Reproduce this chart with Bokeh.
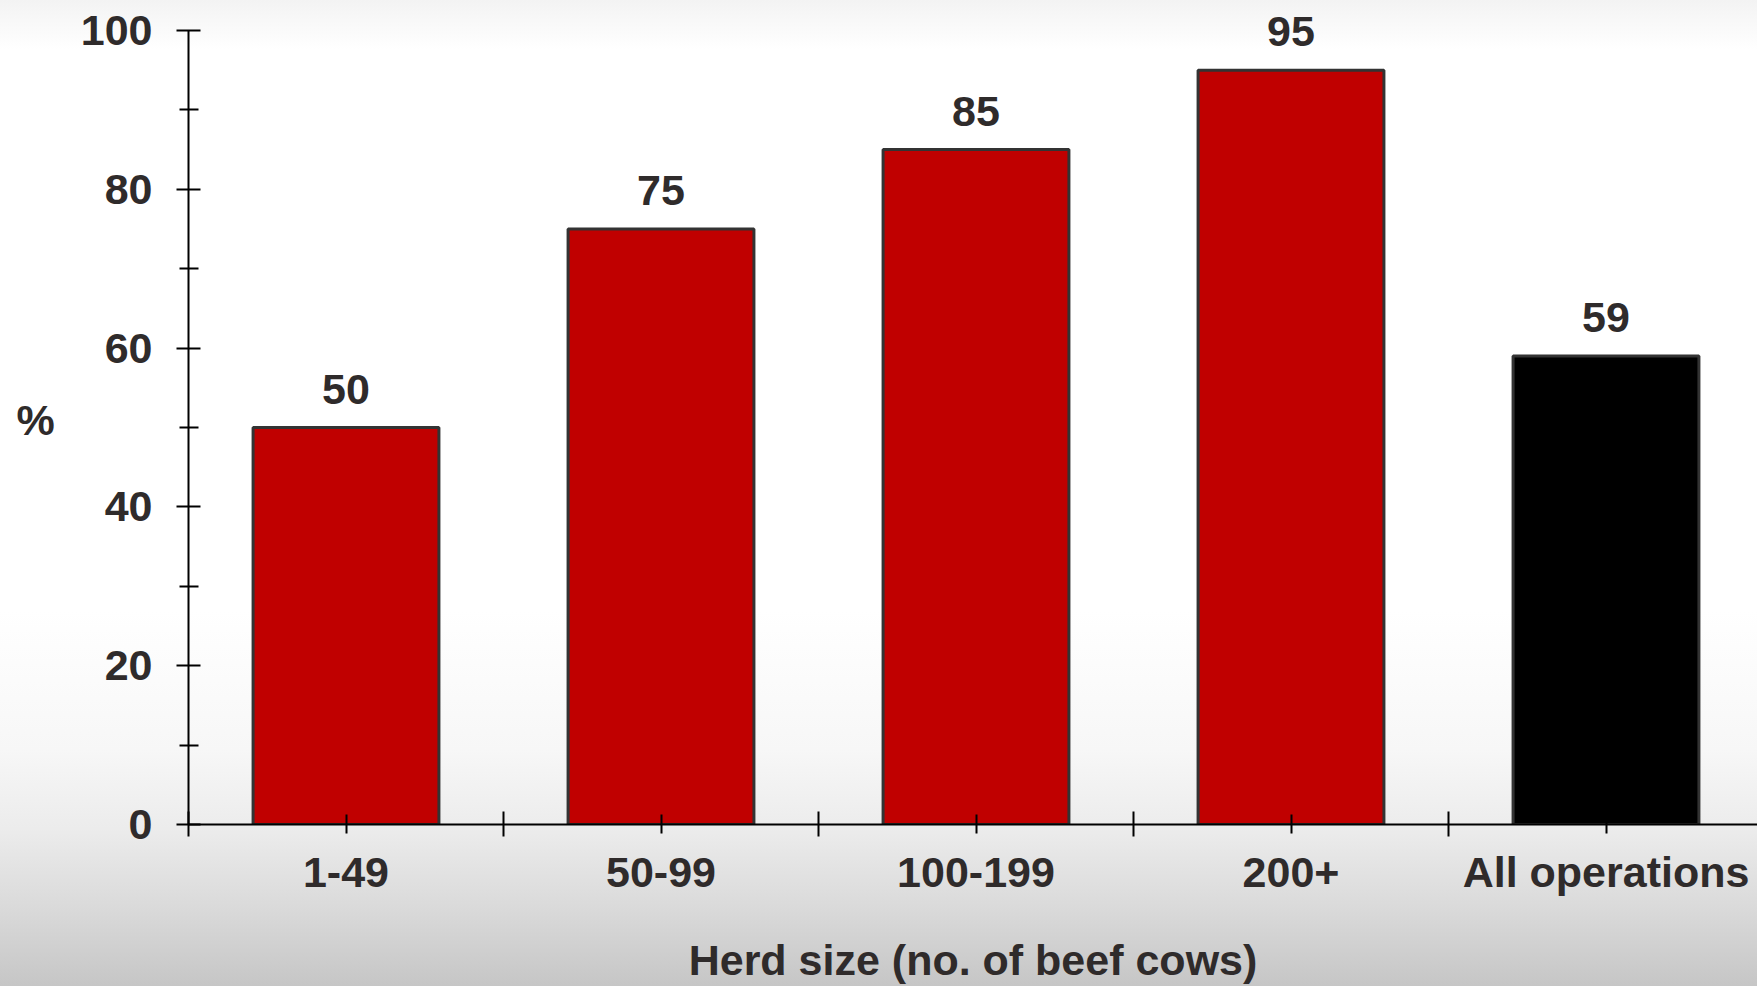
from bokeh.plotting import figure
from bokeh.models import ColumnDataSource, Range1d, FixedTicker, InlineStyleSheet
from bokeh.core.properties import value
from bokeh.embed import file_html
from bokeh.resources import INLINE

# Share of operations, by herd size
categories = ["1-49", "50-99", "100-199", "200+", "All operations"]
percent = [50, 75, 85, 95, 59]
bar_colors = ["#c00000", "#c00000", "#c00000", "#c00000", "#000000"]
y_ticks = [0, 20, 40, 60, 80, 100]
y_minor = [10, 30, 50, 70, 90]
x_title = "Herd size (no. of beef cows)"
y_title = "%"

TEXT = "#2f2b2b"
FONT = "Liberation Sans"
SIZE = "43px"

positions = [i + 0.5 for i in range(len(categories))]
labels = [str(v) for v in percent]

src = ColumnDataSource(dict(x=positions, top=percent, color=bar_colors, label=labels))

W, H = 1757, 986
left, top, bottom = 188, 14, 162
frame_w = W - left
frame_h = H - bottom - top
cat_px = 315.0
px_per_unit = 7.94

p = figure(width=W, height=H, output_backend="svg", toolbar_location=None,
           x_range=Range1d(0, frame_w / cat_px),
           y_range=Range1d(0, frame_h / px_per_unit),
           min_border_left=left, min_border_right=0, min_border_top=top,
           min_border_bottom=bottom, outline_line_color=None,
           background_fill_alpha=0, border_fill_alpha=0)

p.stylesheets.append(InlineStyleSheet(css=""":host {
  background: linear-gradient(to bottom, #f3f3f3 0%, #ffffff 5%, #ffffff 62%,
      #f7f7f7 76%, #ececec 84%, #dadada 92%, #c6c6c6 100%);
}"""))

p.grid.visible = False

p.vbar(x="x", top="top", width=0.59, bottom=0, source=src,
       fill_color="color", line_color="#333333", line_width=3)

p.text(x="x", y="top", text="label", source=src, text_align="center",
       text_baseline="bottom", y_offset=-24,
       text_font=value(FONT), text_font_style="bold", text_font_size=SIZE,
       text_color=TEXT)

# x axis: labels at the bar centres, longer ticks between categories
xa = p.xaxis[0]
xa.ticker = FixedTicker(ticks=positions, minor_ticks=list(range(len(categories) + 1)))
xa.major_label_overrides = {pos: cat for pos, cat in zip(positions, categories)}
xa.axis_label = x_title
xa.axis_label_standoff = 37

# y axis, drawn from 0 to 100 only
ya = p.yaxis[0]
ya.ticker = FixedTicker(ticks=y_ticks, minor_ticks=y_minor)
ya.bounds = (y_ticks[0], y_ticks[-1])
ya.axis_label = y_title
ya.axis_label_orientation = "horizontal"
ya.axis_label_standoff = 23

for ax in (xa, ya):
    ax.axis_line_color = "black"
    ax.axis_line_width = 2
    ax.major_tick_line_color = "black"
    ax.major_tick_line_width = 2
    ax.minor_tick_line_color = "black"
    ax.minor_tick_line_width = 2
    ax.major_label_text_font = FONT
    ax.major_label_text_font_style = "bold"
    ax.major_label_text_font_size = SIZE
    ax.major_label_text_color = TEXT
    ax.axis_label_text_font = FONT
    ax.axis_label_text_font_style = "bold"
    ax.axis_label_text_font_size = SIZE
    ax.axis_label_text_color = TEXT

xa.major_tick_in = 10
xa.major_tick_out = 9
xa.minor_tick_in = 13
xa.minor_tick_out = 12
xa.major_label_standoff = 11

ya.major_tick_in = 12
ya.major_tick_out = 12
ya.minor_tick_in = 10
ya.minor_tick_out = 9
ya.major_label_standoff = 24

open("out.html", "w").write(file_html(p, INLINE))
